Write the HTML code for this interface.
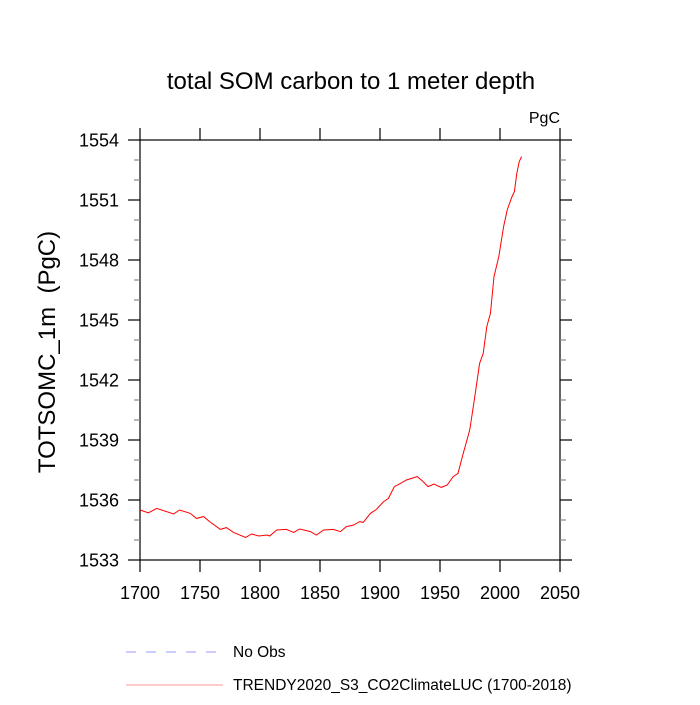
<!DOCTYPE html>
<html><head><meta charset="utf-8"><style>
body{margin:0;background:#fff}
svg text{font-family:"Liberation Sans",sans-serif;fill:#000}
</style></head><body>
<svg id="chart" width="700" height="700">
<text x="351" y="89" font-size="24" text-anchor="middle">total SOM carbon to 1 meter depth</text>
<text x="560" y="123" font-size="16" text-anchor="end">PgC</text>
<text transform="translate(55,352) rotate(-90)" font-size="24" text-anchor="middle">TOTSOMC_1m&#160;&#160;(PgC)</text>
<g id="axes"></g>
<path id="series" fill="none" stroke="#ff0000" stroke-width="1"></path>
<line x1="126" y1="652" x2="222" y2="652" stroke="#9999ff" stroke-dasharray="10,10"/>
<text x="233" y="657" font-size="15.5">No Obs</text>
<line x1="126" y1="685" x2="223" y2="685" stroke="#ff9999"/>
<text x="233" y="690" font-size="15.5">TRENDY2020_S3_CO2ClimateLUC (1700-2018)</text>
</svg>
<script>
const years=[1700,1707,1714,1728,1733,1742,1747,1753,1758,1767,1772,1778,1788,1793,1799,1806,1808,1814,1822,1828,1833,1842,1847,1853,1861,1867,1872,1878,1883,1886,1892,1897,1903,1907,1912,1917,1922,1931,1936,1940,1945,1951,1956,1961,1965,1969,1974,1975,1979,1983,1986,1989,1992,1995,1999,2003,2006,2010,2012,2014,2016,2018];
const values=[1535.5,1535.36,1535.58,1535.3,1535.5,1535.33,1535.08,1535.17,1534.92,1534.53,1534.62,1534.38,1534.13,1534.3,1534.2,1534.25,1534.2,1534.5,1534.53,1534.38,1534.55,1534.42,1534.25,1534.5,1534.53,1534.42,1534.67,1534.75,1534.92,1534.88,1535.33,1535.53,1535.92,1536.08,1536.67,1536.83,1537.0,1537.17,1536.92,1536.67,1536.8,1536.63,1536.75,1537.17,1537.33,1538.25,1539.33,1539.58,1541.17,1542.83,1543.33,1544.67,1545.33,1547.17,1548.17,1549.67,1550.5,1551.17,1551.42,1552.33,1552.92,1553.17];
const xTicks=[1700,1750,1800,1850,1900,1950,2000,2050];
const yTicks=[1533,1536,1539,1542,1545,1548,1551,1554];
const L=140,R=560,T=140,B=560;
const sx=v=>L+(v-1700)*(R-L)/350;
const sy=v=>B-(v-1533)*(B-T)/21;
const ns="http://www.w3.org/2000/svg";
const g=document.getElementById('axes');
function mk(t,a,name){const e=document.createElementNS(ns,t);for(const k in a)e.setAttribute(k,a[k]);


g.appendChild(e);return e;}
mk('rect',{x:L,y:T,width:R-L,height:B-T,fill:'none',stroke:'#000','stroke-width':1.2},'plot-frame');
xTicks.forEach(v=>{const x=sx(v);
mk('line',{x1:x,y1:B,x2:x,y2:B+12,stroke:'#000','stroke-width':1.2},'x-tick');
mk('line',{x1:x,y1:T,x2:x,y2:T-12,stroke:'#000','stroke-width':1.2},'x-tick-top');
const t=mk('text',{x:x,y:B+39,'font-size':18,'text-anchor':'middle'},'x-tick-label');t.textContent=v;});
for(let v=1533;v<=1554;v++){const y=sy(v);const major=yTicks.includes(v);const len=major?12:6;
mk('line',{x1:L,y1:y,x2:L-len,y2:y,stroke:major?'#000':'#888','stroke-width':1.2},'y-tick');
mk('line',{x1:R,y1:y,x2:R+len,y2:y,stroke:major?'#000':'#888','stroke-width':1.2},'y-tick-right');
if(major){const t=mk('text',{x:119,y:y+6.5,'font-size':18,'text-anchor':'end'},'y-tick-label');t.textContent=v;}}
document.getElementById('series').setAttribute('d',years.map((yr,i)=>(i?'L':'M')+sx(yr).toFixed(1)+' '+sy(values[i]).toFixed(1)).join(' '));
</script>
</body></html>
